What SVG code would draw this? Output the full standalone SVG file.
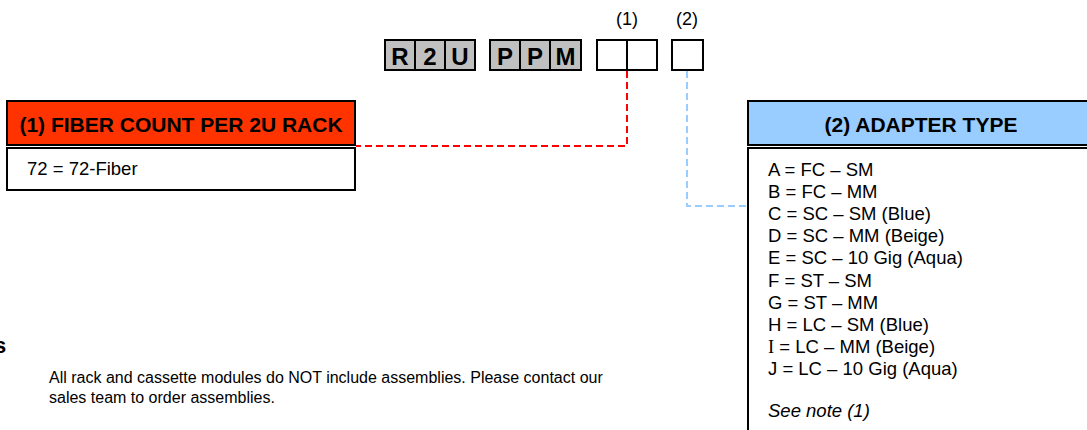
<svg xmlns="http://www.w3.org/2000/svg" width="1087" height="430" viewBox="0 0 1087 430">
<style>
text{font-family:"Liberation Sans",Arial,sans-serif;fill:#000}
.cell{fill:#c0c0c0;stroke:#000;stroke-width:2}
.blank{fill:#fff;stroke:#000;stroke-width:2}
.ch{font-size:24px;font-weight:bold;text-anchor:middle}
.lbl{font-size:18px;text-anchor:middle}
.hdr{font-size:21px;font-weight:bold;text-anchor:middle}
.body{font-size:18.5px}
.box{fill:#fff;stroke:#000;stroke-width:2}
.note{font-size:16px}
</style>
<rect width="1087" height="430" fill="#fff"/>
<g id="code">
<rect class="cell" x="385" y="40" width="30" height="30"/>
<rect class="cell" x="415" y="40" width="30" height="30"/>
<rect class="cell" x="445" y="40" width="30" height="30"/>
<text class="ch" x="400" y="64.5">R</text>
<text class="ch" x="430" y="64.5">2</text>
<text class="ch" x="460" y="64.5">U</text>
<rect class="cell" x="490" y="40" width="30" height="30"/>
<rect class="cell" x="520" y="40" width="30" height="30"/>
<rect class="cell" x="550" y="40" width="31" height="30"/>
<text class="ch" x="505" y="64.5">P</text>
<text class="ch" x="535" y="64.5">P</text>
<text class="ch" x="565.5" y="64.5">M</text>
<rect class="blank" x="597" y="40" width="30" height="30"/>
<rect class="blank" x="627" y="40" width="30" height="30"/>
<rect class="blank" x="672" y="40" width="31" height="30"/>
<text class="lbl" x="627" y="25">(1)</text>
<text class="lbl" x="687" y="25">(2)</text>
</g>
<g id="connectors" fill="none" stroke-width="2" stroke-dasharray="7 4">
<path d="M627,71 V146 H356" stroke="#ff0000"/>
<path d="M687,71 V206 H747" stroke="#99ccff"/>
</g>
<g id="fiber-count">
<rect x="7" y="101" width="348" height="44" fill="#ff3300" stroke="#000" stroke-width="2"/>
<text class="hdr" x="181" y="131.5">(1) FIBER COUNT PER 2U RACK</text>
<rect class="box" x="7" y="148" width="348" height="42"/>
<text class="body" x="27" y="175">72 = 72-Fiber</text>
</g>
<g id="adapter-type">
<rect x="748" y="101" width="360" height="44" fill="#99ccff" stroke="#000" stroke-width="2"/>
<text class="hdr" x="921" y="131.5">(2) ADAPTER TYPE</text>
<rect class="box" x="748" y="148" width="360" height="300"/>
<text class="body" x="768" y="175.5">A = FC – SM</text>
<text class="body" x="768" y="197.7">B = FC – MM</text>
<text class="body" x="768" y="219.9">C = SC – SM (Blue)</text>
<text class="body" x="768" y="242.1">D = SC – MM (Beige)</text>
<text class="body" x="768" y="264.3">E = SC – 10 Gig (Aqua)</text>
<text class="body" x="768" y="286.5">F = ST – SM</text>
<text class="body" x="768" y="308.7">G = ST – MM</text>
<text class="body" x="768" y="330.9">H = LC – SM (Blue)</text>
<text class="body" x="768" y="353.1"><tspan font-family="Liberation Serif,serif">I</tspan> = LC – MM (Beige)</text>
<text class="body" x="768" y="375.3">J = LC – 10 Gig (Aqua)</text>
<text class="body" x="768" y="417" font-style="italic">See note (1)</text>
</g>
<g id="notes">
<text x="-6" y="352.5" font-size="22" font-weight="bold">s</text>
<text class="note" x="49" y="382.5">All rack and cassette modules do NOT include assemblies. Please contact our</text>
<text class="note" x="49" y="402.5">sales team to order assemblies.</text>
</g>
</svg>
